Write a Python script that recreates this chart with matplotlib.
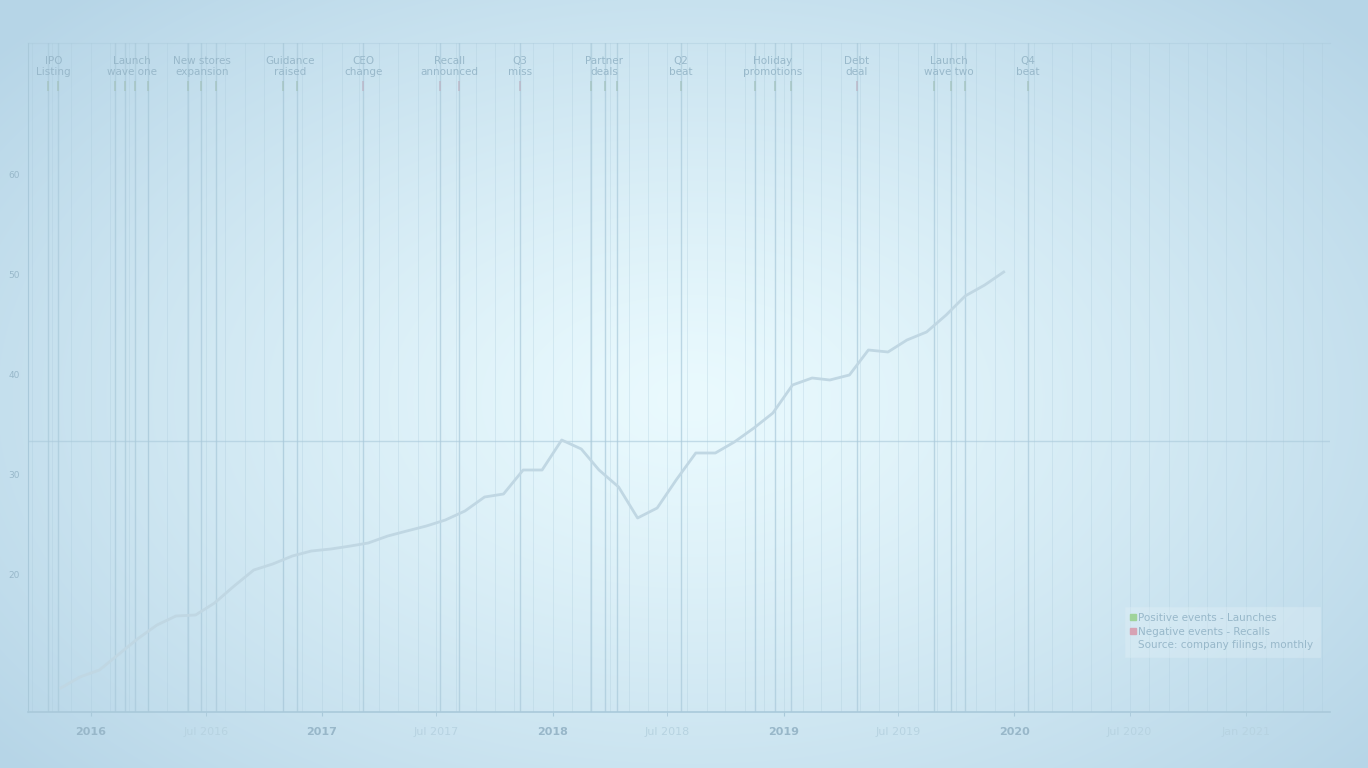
import matplotlib
matplotlib.use('Agg')
import matplotlib.pyplot as plt
from matplotlib.lines import Line2D
import numpy as np
import pandas as pd

# monthly share price (mid-month)
months = pd.date_range('2015-11-01', periods=50, freq='MS') + pd.Timedelta(days=14)
price = [8.7, 9.8, 10.5, 12.1, 13.6, 15.0, 15.9, 16.0, 17.2, 18.9,
         20.5, 21.1, 21.9, 22.4, 22.6, 22.9, 23.2, 23.9, 24.4, 24.9,
         25.5, 26.4, 27.8, 28.1, 30.5, 30.5, 33.5, 32.6, 30.5, 28.8,
         25.7, 26.7, 29.5, 32.2, 32.2, 33.3, 34.7, 36.2, 39.0, 39.7,
         39.5, 40.0, 42.5, 42.3, 43.5, 44.3, 46.0, 47.9, 49.0, 50.3]
previous_high = 33.4

# event groups: label, dates, kind
event_labels = ['IPO\nListing', 'Launch\nwave one', 'New stores\nexpansion', 'Guidance\nraised',
                'CEO\nchange', 'Recall\nannounced', 'Q3\nmiss', 'Partner\ndeals',
                'Q2\nbeat', 'Holiday\npromotions', 'Debt\ndeal', 'Launch\nwave two', 'Q4\nbeat']
event_dates = [['2015-10-26', '2015-11-11'],
               ['2016-02-09', '2016-02-25', '2016-03-12', '2016-04-01'],
               ['2016-06-03', '2016-06-23', '2016-07-17'],
               ['2016-11-01', '2016-11-23'],
               ['2017-03-07'],
               ['2017-07-07', '2017-08-06'],
               ['2017-11-10'],
               ['2018-03-03', '2018-03-24', '2018-04-12'],
               ['2018-07-23'],
               ['2018-11-16', '2018-12-18', '2019-01-12'],
               ['2019-04-27'],
               ['2019-08-26', '2019-09-22', '2019-10-14'],
               ['2020-01-22']]
event_kind = ['pos', 'pos', 'pos', 'pos', 'neg', 'neg', 'neg',
              'pos', 'pos', 'pos', 'neg', 'pos', 'pos']

years = ['2016', '2017', '2018', '2019', '2020']
minor_dates = ['2016-07-01', '2017-07-01', '2018-07-01', '2019-07-01', '2020-07-01', '2021-01-01']
minor_labels = ['Jul 2016', 'Jul 2017', 'Jul 2018', 'Jul 2019', 'Jul 2020', 'Jan 2021']

fig = plt.figure(figsize=(13.68, 7.68), dpi=100)

# soft radial background
bg = fig.add_axes([0, 0, 1, 1], zorder=-10)
yy, xx = np.mgrid[0:768, 0:1368]
d = np.sqrt(((xx - 690) / 900.0) ** 2 + ((yy - 400) / 560.0) ** 2)
d = np.clip(d, 0, 1) ** 1.2
c0 = np.array([234, 250, 254]) / 255.0
c1 = np.array([182, 213, 231]) / 255.0
img = c0 * (1 - d[..., None]) + c1 * d[..., None]
bg.imshow(img, aspect='auto', interpolation='bilinear')
bg.axis('off')

ax = fig.add_axes([28 / 1368, 1 - 712 / 768, 1302 / 1368, 669 / 768])
ax.set_facecolor('none')

grid_c = '#a9c9da'
txt_c = '#98b8ca'

# monthly grid
for m in pd.date_range('2015-10-01', '2021-05-01', freq='MS'):
    ax.axvline(m, color=grid_c, lw=0.6, alpha=0.35, zorder=1)

# event lines and labels
for lab, dates, kind in zip(event_labels, event_dates, event_kind):
    dts = pd.to_datetime(dates)
    for dt in dts:
        ax.axvline(dt, color=grid_c, lw=1.0, alpha=0.7, zorder=2)
    mark_c = '#a3c2bd' if kind == 'pos' else '#bcb3c4'
    ax.plot(dts, [0.935] * len(dts), ls='none', marker='|', ms=7, mew=1.2,
            color=mark_c, alpha=0.8, transform=ax.get_xaxis_transform(), zorder=3)
    mid = dts[0] + (dts[-1] - dts[0]) / 2
    ax.text(mid, 0.965, lab, transform=ax.get_xaxis_transform(), ha='center', va='center',
            fontsize=7.5, color=txt_c, linespacing=1.1, zorder=3)

ax.axhline(previous_high, color=grid_c, lw=1.0, alpha=0.6, zorder=2)

ax.plot(months, price, '-', color='#c0d7e3', linewidth=2.0, zorder=4, label='Share price')

ax.set_xlim(pd.Timestamp('2015-09-24'), pd.Timestamp('2021-05-14'))
ax.set_ylim(6.3, 73.2)
ax.set_yticks([20, 30, 40, 50, 60])
ax.tick_params(axis='y', labelsize=6.5, colors=txt_c, length=0, pad=6)

ax.set_xticks(pd.to_datetime([y + '-01-01' for y in years]))
ax.set_xticklabels(years, fontweight='bold', fontsize=8)
ax.set_xticks(pd.to_datetime(minor_dates), minor=True)
ax.set_xticklabels(minor_labels, minor=True, fontsize=8)
ax.tick_params(axis='x', which='both', length=3, colors=grid_c, pad=8)
for t in ax.get_xticklabels():
    t.set_color('#98b7c9')
for t in ax.get_xticklabels(minor=True):
    t.set_color('#b7d3e1')

ax.spines['right'].set_visible(False)
ax.spines['top'].set_color(grid_c)
ax.spines['top'].set_alpha(0.4)
ax.spines['left'].set_color(grid_c)
ax.spines['bottom'].set_color(grid_c)
ax.spines['bottom'].set_linewidth(1.2)

handles = [Line2D([], [], ls='none', marker='s', ms=5, color='#9fd39a'),
           Line2D([], [], ls='none', marker='s', ms=5, color='#d7a3b4'),
           Line2D([], [], ls='none', marker='none')]
leg = ax.legend(handles, ['Positive events - Launches', 'Negative events - Recalls',
                          'Source: company filings, monthly'],
                loc='lower right', bbox_to_anchor=(0.996, 0.075), fontsize=7.5,
                handlelength=0.4, handletextpad=0.3, labelspacing=0.35,
                frameon=True, fancybox=False, borderpad=0.6)
leg.get_frame().set_facecolor('#e4f2f8')
leg.get_frame().set_alpha(0.35)
leg.get_frame().set_edgecolor('#d6e9f2')
for t in leg.get_texts():
    t.set_color(txt_c)

fig.savefig('out.png', dpi=100)
